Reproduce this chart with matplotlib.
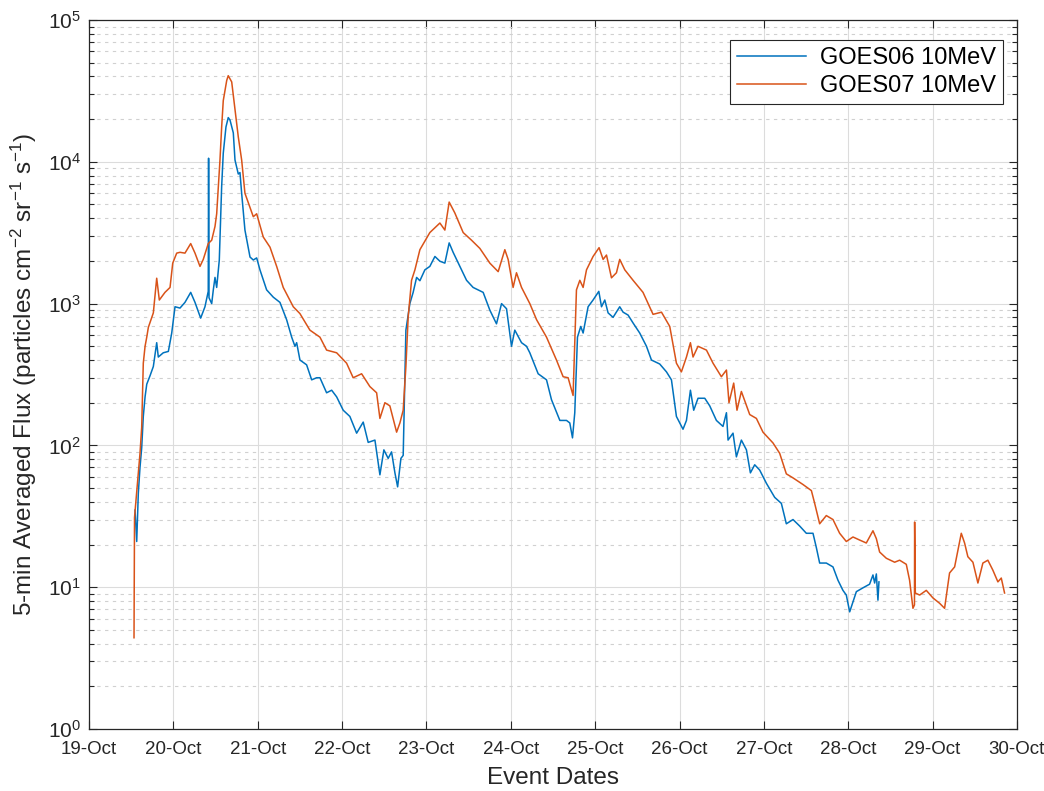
import numpy as np
import pandas as pd
import matplotlib
matplotlib.use("Agg")
import matplotlib.pyplot as plt
import matplotlib.dates as mdates
from matplotlib.ticker import LogLocator, NullFormatter

# October 1989 proton event, 5-min averaged >10 MeV flux
# times are given as fractional day of October
g06_day = [19.545, 19.565, 19.584, 19.604, 19.624, 19.643, 19.664, 19.684, 19.723, 19.762,
           19.802, 19.821, 19.880, 19.940, 19.980, 20.019, 20.078, 20.137, 20.205, 20.256,
           20.323, 20.374, 20.413, 20.417, 20.422, 20.454, 20.473, 20.493, 20.513, 20.544,
           20.572, 20.591, 20.623, 20.650, 20.671, 20.710, 20.730, 20.769, 20.789, 20.809,
           20.848, 20.908, 20.947, 20.987, 21.026, 21.105, 21.184, 21.263, 21.342, 21.402,
           21.441, 21.461, 21.500, 21.579, 21.639, 21.698, 21.737, 21.816, 21.876, 21.935,
           22.013, 22.092, 22.172, 22.250, 22.309, 22.389, 22.448, 22.495, 22.546, 22.586,
           22.626, 22.658, 22.697, 22.724, 22.756, 22.803, 22.842, 22.883, 22.922, 22.981,
           23.040, 23.100, 23.159, 23.218, 23.269, 23.316, 23.396, 23.475, 23.553, 23.672,
           23.751, 23.830, 23.890, 23.949, 24.008, 24.047, 24.127, 24.186, 24.225, 24.324,
           24.423, 24.482, 24.581, 24.660, 24.699, 24.731, 24.758, 24.790, 24.829, 24.857,
           24.916, 24.975, 25.043, 25.075, 25.114, 25.153, 25.212, 25.291, 25.331, 25.390,
           25.449, 25.528, 25.608, 25.667, 25.765, 25.845, 25.904, 25.963, 26.041, 26.082,
           26.129, 26.168, 26.219, 26.299, 26.358, 26.437, 26.515, 26.556, 26.575, 26.634,
           26.674, 26.733, 26.793, 26.840, 26.891, 26.950, 27.030, 27.128, 27.207, 27.266,
           27.345, 27.424, 27.503, 27.582, 27.622, 27.661, 27.740, 27.819, 27.878, 27.937,
           27.977, 28.017, 28.096, 28.175, 28.253, 28.293, 28.313, 28.333, 28.352, 28.364]
g06_flux = [35, 21, 46, 70, 96, 160, 220, 270, 310, 360,
            530, 420, 450, 460, 620, 950, 930, 1020, 1200, 1020,
            790, 950, 1220, 10600, 1100, 1000, 1250, 1530, 1300, 2030,
            6700, 11500, 17600, 20500, 19700, 16000, 10300, 8200, 8400, 6000,
            3300, 2130, 2030, 2100, 1730, 1250, 1110, 1020, 770, 580,
            500, 530, 400, 370, 290, 300, 300, 235, 245, 220,
            177, 160, 122, 146, 105, 109, 62, 93, 81, 90,
            64, 51, 81, 85, 650, 1000, 1200, 1530, 1450, 1730,
            1830, 2150, 1990, 1930, 2680, 2300, 1830, 1460, 1300, 1200,
            900, 720, 1000, 920, 500, 650, 530, 500, 450, 320,
            290, 210, 150, 150, 144, 113, 170, 580, 690, 620,
            950, 1060, 1220, 950, 1060, 860, 800, 950, 870, 830,
            730, 620, 500, 400, 375, 330, 290, 160, 130, 150,
            245, 177, 215, 215, 190, 150, 136, 170, 109, 122,
            83, 109, 93, 64, 73, 67, 54, 43, 39, 28,
            30, 27, 24, 24, 19, 14.8, 14.8, 13.9, 11.2, 9.5,
            8.8, 6.7, 9.3, 9.9, 10.5, 12.2, 10.7, 12.4, 8.1, 10.9]

g07_day = [19.533, 19.539, 19.604, 19.624, 19.643, 19.664, 19.684, 19.703, 19.743, 19.762,
           19.802, 19.833, 19.900, 19.960, 19.992, 20.039, 20.078, 20.137, 20.205, 20.256,
           20.315, 20.354, 20.413, 20.454, 20.493, 20.513, 20.552, 20.572, 20.591, 20.632,
           20.650, 20.691, 20.730, 20.769, 20.809, 20.848, 20.947, 20.987, 21.065, 21.145,
           21.224, 21.302, 21.421, 21.500, 21.618, 21.737, 21.816, 21.935, 22.053, 22.131,
           22.231, 22.329, 22.409, 22.448, 22.507, 22.566, 22.646, 22.685, 22.724, 22.756,
           22.783, 22.823, 22.863, 22.922, 23.040, 23.159, 23.218, 23.269, 23.336, 23.435,
           23.534, 23.633, 23.751, 23.850, 23.929, 23.968, 24.027, 24.067, 24.127, 24.225,
           24.305, 24.423, 24.541, 24.620, 24.679, 24.738, 24.778, 24.818, 24.857, 24.897,
           24.975, 25.046, 25.094, 25.134, 25.193, 25.252, 25.291, 25.351, 25.449, 25.567,
           25.686, 25.786, 25.884, 25.963, 26.022, 26.082, 26.129, 26.160, 26.219, 26.319,
           26.397, 26.496, 26.556, 26.586, 26.642, 26.681, 26.733, 26.832, 26.911, 26.989,
           27.108, 27.187, 27.266, 27.345, 27.463, 27.563, 27.602, 27.661, 27.740, 27.819,
           27.898, 27.977, 28.056, 28.135, 28.214, 28.293, 28.333, 28.372, 28.451, 28.550,
           28.609, 28.688, 28.727, 28.767, 28.785, 28.787, 28.795, 28.846, 28.925, 29.004,
           29.083, 29.142, 29.201, 29.261, 29.340, 29.379, 29.418, 29.478, 29.537, 29.596,
           29.655, 29.714, 29.774, 29.814, 29.853]
g07_flux = [4.4, 31, 88, 134, 380, 500, 580, 680, 800, 860,
            1510, 1060, 1200, 1300, 1930, 2270, 2300, 2270, 2650, 2270,
            1830, 2050, 2650, 2800, 3500, 4300, 10300, 17600, 27000, 37500,
            40500, 36600, 23300, 15000, 10300, 6000, 4100, 4300, 2950, 2500,
            1830, 1300, 950, 850, 650, 580, 470, 450, 380, 300,
            320, 260, 235, 155, 200, 190, 124, 144, 177, 360,
            800, 1460, 1730, 2400, 3170, 3700, 3300, 5200, 4360, 3170,
            2800, 2450, 1930, 1680, 2400, 2050, 1300, 1650, 1300, 1000,
            770, 580, 400, 305, 300, 225, 1250, 1460, 1300, 1730,
            2150, 2480, 2050, 2200, 1520, 1650, 2050, 1730, 1460, 1200,
            840, 870, 690, 380, 330, 420, 530, 420, 500, 470,
            380, 305, 340, 200, 275, 177, 240, 165, 155, 124,
            104, 88, 63, 59, 53, 48, 39, 28, 32, 30,
            24, 21, 22.6, 21.5, 20.5, 25, 22, 17.7, 16, 15,
            15.5, 14.5, 11.2, 7.1, 7.5, 28.8, 9.1, 8.8, 9.5, 8.4,
            7.7, 7.1, 12.6, 13.9, 24, 20.5, 16.4, 15, 10.7, 14.8,
            15.5, 13.2, 10.9, 11.6, 9.1]

month_start = pd.Timestamp("1989-10-01")


def to_time(days):
    return month_start + pd.to_timedelta(np.asarray(days) - 1, unit="D")


plt.rcParams["font.family"] = ["Liberation Sans", "DejaVu Sans"]
plt.rcParams["mathtext.default"] = "regular"

fig = plt.figure(figsize=(10.44, 7.91), dpi=100)
ax = fig.add_axes([0.0853, 0.0784, 0.8888, 0.8963])

ax.semilogy(to_time(g06_day), g06_flux, color="#0072BD", lw=1.1, label="GOES06 10MeV")
ax.semilogy(to_time(g07_day), g07_flux, color="#D95319", lw=1.1, label="GOES07 10MeV")

ax.set_xlim(to_time([19])[0], to_time([30])[0])
ax.set_ylim(1, 1e5)

ax.xaxis.set_major_locator(mdates.DayLocator())
ax.xaxis.set_major_formatter(mdates.DateFormatter("%d-%b"))
ax.yaxis.set_major_locator(LogLocator(base=10, numticks=10))
ax.yaxis.set_minor_locator(LogLocator(base=10, subs=np.arange(2, 10), numticks=50))
ax.yaxis.set_minor_formatter(NullFormatter())

ax.grid(True, which="major", color="#dcdcdc", lw=0.8, ls="-")
ax.grid(True, which="minor", axis="y", color="#d0d0d0", lw=0.8, ls=(0, (3, 4)))
ax.set_axisbelow(True)

ax.tick_params(which="both", direction="in", top=True, right=True, colors="#262626",
               labelcolor="#262626")
ax.tick_params(axis="y", labelsize=15, pad=6)
ax.tick_params(axis="x", labelsize=13.5, pad=9)
ax.tick_params(which="major", length=6, width=0.8)
ax.tick_params(which="minor", length=3.5, width=0.8)
for s in ax.spines.values():
    s.set_color("#262626")
    s.set_linewidth(0.9)

ax.set_xlabel("Event Dates", fontsize=17.5, color="#262626", labelpad=6)
ax.set_ylabel("5-min Averaged Flux (particles cm$^{-2}$ sr$^{-1}$ s$^{-1}$)",
              fontsize=17.5, color="#262626", labelpad=6)

leg = ax.legend(loc="upper right", bbox_to_anchor=(0.985, 0.9718), borderaxespad=0,
                fontsize=17, frameon=True, fancybox=False, edgecolor="#262626",
                framealpha=1, handlelength=2.9, borderpad=0.3, labelspacing=0.25,
                handletextpad=0.6)
leg.get_frame().set_linewidth(0.8)

fig.savefig("out.png", dpi=100)
